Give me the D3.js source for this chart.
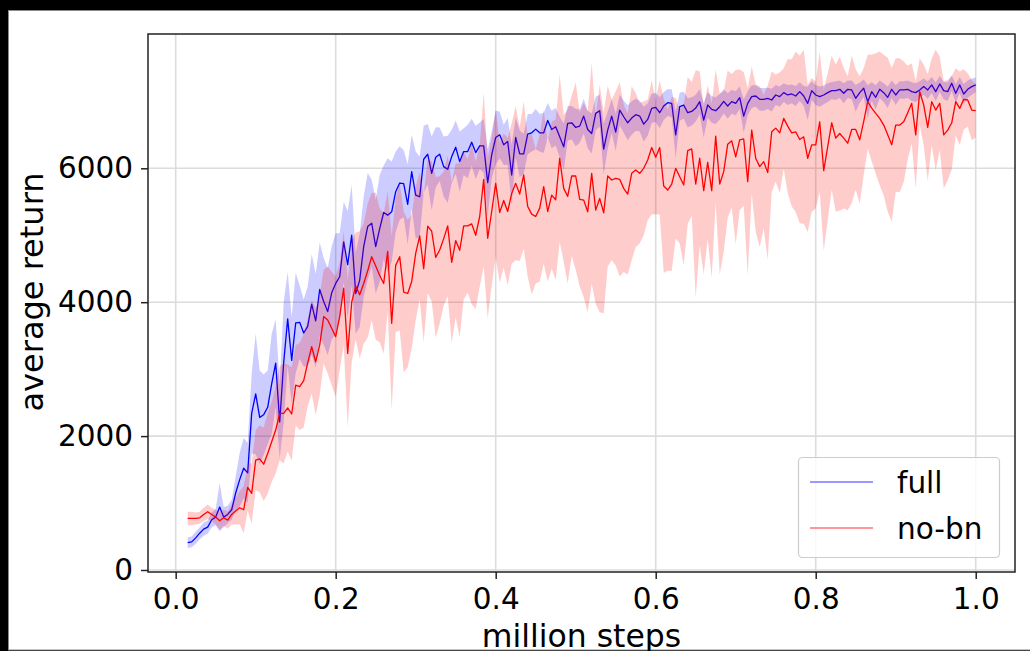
<!DOCTYPE html>
<html>
<head>
<meta charset="utf-8">
<script src="https://cdn.jsdelivr.net/npm/d3@7"></script>
<style>
body { margin: 0; background: #000; }
svg { display: block; }
</style>
</head>
<body>
<script>
var width = 1030,
    height = 651;

// data: evaluation every 5000 steps, from 0.015 to 1.0 million
var steps = d3.range(198).map(function(i) { return +(0.015 + 0.005 * i).toFixed(3); });

var fullMean = [
  410,420,480,550,610,640,750,790,940,790,
  830,900,1150,1350,1520,1450,2340,2630,2280,2320,
  2430,2780,3090,2210,3100,3750,3130,3690,3700,3540,
  3640,3970,3720,4190,4010,3860,4140,4280,4380,4900,
  4560,5000,4130,4330,4830,5130,5180,4830,5100,5340,
  5300,5350,5650,5780,5770,5460,5950,5600,5575,6135,
  6210,5925,6165,6210,6025,5985,6175,6315,6100,6250,
  6250,6390,6235,6335,6335,5785,6200,6460,6500,6350,
  6400,5900,6460,6215,6215,6510,6530,6585,6530,6530,
  6715,6580,6620,6470,6320,6670,6680,6610,6630,6780,
  6580,6520,6820,6860,6285,6570,6780,6540,6870,6770,
  6680,6750,6800,6780,6660,6730,6895,6910,6830,6930,
  6980,6970,6500,6920,6945,6830,6850,6900,6995,6720,
  6945,6880,6860,6920,7000,6930,6995,6970,7055,6780,
  6970,7070,7080,7030,7030,7045,7020,7095,7070,7130,
  7095,7110,7080,7145,7080,6970,7160,7095,7070,7095,
  7130,7160,7160,7180,7120,7180,7170,7045,7130,7195,
  6995,7145,7060,7180,7130,7060,7180,7095,7170,7170,
  7180,7145,7130,7170,7220,7170,7245,7145,7260,7160,
  7145,7270,7120,7245,7110,7180,7220,7245
];
var fullSd = [
  80,80,90,90,100,100,110,120,360,150,
  130,150,250,400,450,450,600,900,700,600,
  550,750,650,550,900,700,650,750,550,500,
  600,750,700,700,650,650,700,750,650,600,
  800,750,600,700,750,800,650,700,800,700,
  850,750,600,550,500,600,550,650,600,500,
  450,550,450,400,450,500,400,400,450,350,
  400,350,400,350,400,500,350,400,350,300,
  350,450,300,350,300,300,280,300,280,300,
  260,280,280,300,350,260,250,280,250,260,
  280,300,250,240,380,280,250,280,230,240,
  260,250,240,230,260,240,220,220,230,210,
  200,210,350,210,200,220,210,200,190,260,
  190,200,200,190,180,190,180,180,170,250,
  180,170,160,170,170,160,170,150,150,140,
  150,140,150,140,150,250,140,150,150,140,
  140,130,140,130,150,130,140,200,150,130,
  250,140,180,130,140,160,130,150,130,130,
  130,140,140,130,120,130,120,140,120,130,
  140,120,140,120,150,130,120,110
];
var nobnMean = [
  770,770,770,780,830,870,830,790,735,780,
  745,830,880,930,900,1235,1145,1640,1660,1580,
  1740,1915,2090,2340,2340,2420,2330,2760,2740,2830,
  3095,3335,3110,3360,3785,3735,3610,3485,3785,4210,
  3235,4000,4240,4110,4280,4470,4680,4540,4400,4280,
  4760,3685,4550,4680,4150,4130,4310,4730,4990,4500,
  5135,5060,4670,4780,4950,5140,4595,4920,4775,5140,
  5140,5170,5000,5280,5835,4955,5355,5775,5340,5520,
  5355,5625,5775,5615,5900,5430,5315,5280,5405,5725,
  5355,5600,5530,6150,5700,5580,5885,5885,5535,5525,
  5350,5925,5375,5550,5335,5885,5825,5850,5835,5700,
  5615,5925,5975,5925,6000,6125,6310,6165,6310,5735,
  5675,5765,6000,5875,5750,6265,6290,5765,6150,5665,
  6090,5665,6480,5765,5950,6360,6410,6170,6425,6440,
  5800,6570,6150,6025,6100,5935,6545,6600,6530,6745,
  6630,6530,6545,6430,6470,6150,6350,6350,6695,5965,
  6325,6680,6450,6520,6450,6375,6580,6580,6425,6700,
  6995,6900,6820,6745,6645,6500,6350,6645,6645,6695,
  6830,6970,6500,7145,6945,6610,6995,6870,6970,6500,
  6570,6680,6995,6895,7030,7020,6870,6860
];
var nobnSd = [
  100,100,90,90,100,110,100,110,130,120,
  130,150,200,250,350,350,450,450,500,550,
  600,600,650,700,750,650,700,600,650,700,
  650,700,800,750,700,800,850,900,800,850,
  1100,900,800,950,900,1000,950,1100,1000,1050,
  900,1300,1000,1100,1200,1100,1000,1000,950,1100,
  1000,1050,1200,1100,1000,1050,1200,1150,1300,1100,
  1000,1200,1100,1050,1300,1200,1100,1100,1050,1000,
  1100,1050,1150,1000,1100,1050,1200,1000,1100,1150,
  1050,1100,1200,1250,1100,1300,1200,1400,1300,1450,
  1500,1650,1400,1700,1500,1350,1200,1300,1450,1250,
  1200,1300,1150,1050,1000,900,1000,850,1000,1300,
  1200,1300,1050,1000,1200,1100,1000,1700,1300,1250,
  1150,1300,1000,1350,1200,1100,1000,1300,1050,1000,
  1400,950,1100,1200,1000,1300,900,800,900,750,
  1000,1100,1200,1250,1300,1100,1000,950,1050,1200,
  1100,1000,1100,1150,1050,1000,1100,900,950,800,
  700,800,900,1000,1050,1150,1150,1000,1000,900,
  700,600,800,500,600,800,650,900,700,800,
  750,700,500,550,450,400,450,400
];

var xTicks = [0, 0.2, 0.4, 0.6, 0.8, 1.0];
var yTicks = [0, 2000, 4000, 6000];

var series = [
  {name: "full", color: "#0000ff", mean: fullMean, sd: fullSd},
  {name: "no-bn", color: "#ff0000", mean: nobnMean, sd: nobnSd}
];

//axes box
var boxL = 148, boxR = 1015, boxT = 34, boxB = 572;
var font = "DejaVu Sans";

var svg = d3.select("body")
    .append("svg")
    .attr("width", width)
    .attr("height", height);

// black frame around white figure
svg.append("rect").attr("width", width).attr("height", height).attr("fill", "#000");
svg.append("rect")
    .attr("x", 8.5).attr("y", 10.5)
    .attr("width", width).attr("height", 639.5)
    .attr("fill", "#fff")
    .attr("stroke", "#8a8a8a")
    .attr("stroke-width", 1);

var x = d3.scaleLinear().domain([-0.0346, 1.0491]).range([boxL, boxR]);
var y = d3.scaleLinear().domain([-30, 8006]).range([boxB, boxT]);

svg.append("clipPath").attr("id", "clip")
  .append("rect")
    .attr("x", boxL).attr("y", boxT)
    .attr("width", boxR - boxL).attr("height", boxB - boxT);

// grid
var grid = svg.append("g");
grid.selectAll(".vg").data(xTicks).enter().append("line")
    .attr("x1", function(d) { return x(d); })
    .attr("x2", function(d) { return x(d); })
    .attr("y1", boxT).attr("y2", boxB)
    .style("stroke", "#dcdcdc").style("stroke-width", 1.6);
grid.selectAll(".hg").data(yTicks).enter().append("line")
    .attr("y1", function(d) { return y(d); })
    .attr("y2", function(d) { return y(d); })
    .attr("x1", boxL).attr("x2", boxR)
    .style("stroke", "#dcdcdc").style("stroke-width", 1.6);

var plot = svg.append("g").attr("clip-path", "url(#clip)");

var area = d3.area()
    .x(function(d) { return x(d.x); })
    .y0(function(d) { return y(d.m - d.s); })
    .y1(function(d) { return y(d.m + d.s); });

var line = d3.line()
    .x(function(d) { return x(d.x); })
    .y(function(d) { return y(d.m); });

series.forEach(function(s) {
    var pts = steps.map(function(st, i) { return {x: st, m: s.mean[i], s: s.sd[i]}; });
    plot.append("path")
        .datum(pts)
        .attr("d", area)
        .style("fill", s.color)
        .style("fill-opacity", 0.2)
        .style("stroke", "none");
    plot.append("path")
        .datum(pts)
        .attr("d", line)
        .style("fill", "none")
        .style("stroke", s.color)
        .style("stroke-width", 1.3)
        .style("stroke-linejoin", "round");
});

// frame
svg.append("rect")
    .attr("x", boxL).attr("y", boxT)
    .attr("width", boxR - boxL).attr("height", boxB - boxT)
    .style("fill", "none")
    .style("stroke", "#222")
    .style("stroke-width", 1.5);

// axes
var xAxis = svg.append("g")
    .attr("transform", "translate(0," + boxB + ")")
    .call(d3.axisBottom(x).tickValues(xTicks).tickFormat(d3.format(".1f")).tickSize(7).tickPadding(9));
var yAxis = svg.append("g")
    .attr("transform", "translate(" + boxL + ",0)")
    .call(d3.axisLeft(y).tickValues(yTicks).tickFormat(d3.format("d")).tickSize(7).tickPadding(8));

[xAxis, yAxis].forEach(function(a) {
    a.select(".domain").remove();
    a.selectAll(".tick line").style("stroke", "#222").style("stroke-width", 1.5);
    a.selectAll(".tick text")
        .style("font-family", font)
        .style("font-size", "29.5px")
        .style("fill", "#000");
});

// axis labels
svg.append("text")
    .attr("x", (boxL + boxR) / 2)
    .attr("y", 647)
    .attr("text-anchor", "middle")
    .style("font-family", font)
    .style("font-size", "31.5px")
    .text("million steps");

svg.append("text")
    .attr("transform", "translate(43,292) rotate(-90)")
    .attr("text-anchor", "middle")
    .style("font-family", font)
    .style("font-size", "32px")
    .text("average return");

// legend
var legend = svg.append("g");
legend.append("rect")
    .attr("x", 798.5).attr("y", 457.5)
    .attr("width", 201).attr("height", 100)
    .attr("rx", 4)
    .style("fill", "#fff").style("fill-opacity", 0.8)
    .style("stroke", "#cccccc").style("stroke-width", 1.2);

series.forEach(function(s, i) {
    var ly = 482 + i * 46;
    legend.append("line")
        .attr("x1", 810).attr("x2", 873)
        .attr("y1", ly).attr("y2", ly)
        .style("stroke", s.color)
        .style("stroke-opacity", 0.8)
        .style("stroke-width", 1.2);
    legend.append("text")
        .attr("x", 897)
        .attr("y", ly + 11)
        .style("font-family", font)
        .style("font-size", "29.5px")
        .text(s.name);
});
</script>
</body>
</html>
